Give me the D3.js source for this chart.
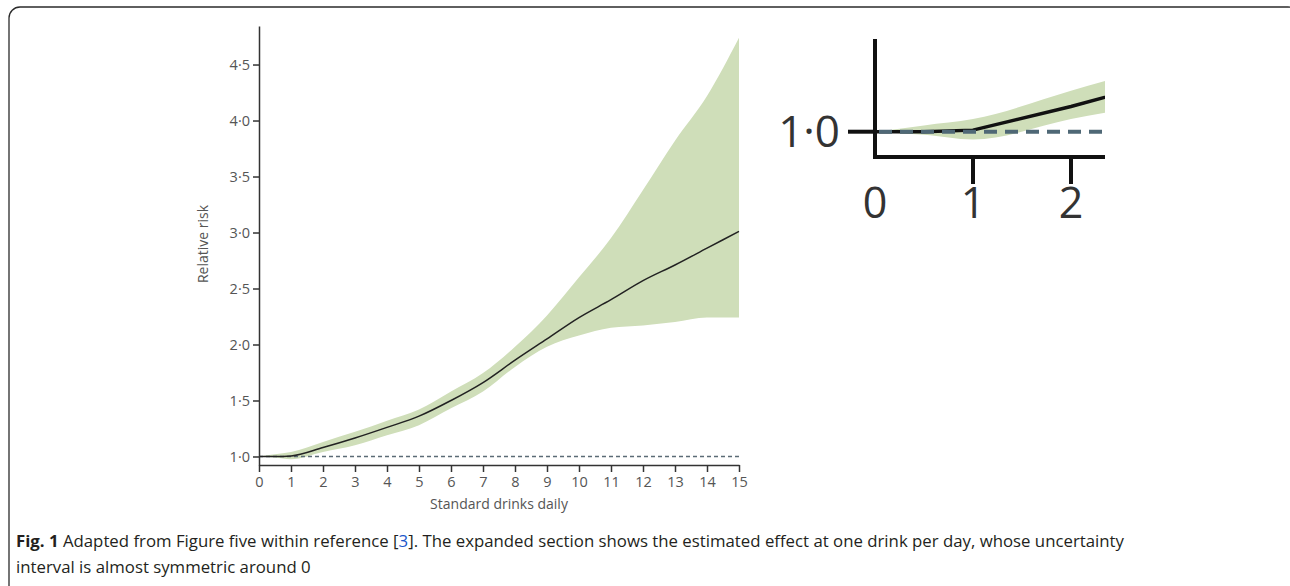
<!DOCTYPE html>
<html>
<head>
<meta charset="utf-8">
<script src="https://cdn.jsdelivr.net/npm/d3@7/dist/d3.min.js"></script>
<style>
  html, body { margin: 0; padding: 0; background: #fff; }
  svg { display: block; }
</style>
</head>
<body>
<svg id="chart" width="1290" height="586"></svg>
<script>
// ---- data ----
const drinks = [0, 0.5, 1, 2, 3, 4, 5, 6, 7, 8, 9, 10, 11, 12, 13, 14, 15];
const relRisk = [1.0, 1.0, 1.005, 1.08, 1.165, 1.26, 1.36, 1.50, 1.66, 1.86, 2.05, 2.24, 2.40, 2.57, 2.71, 2.86, 3.01];
const upperCI = [1.0, 1.02, 1.04, 1.13, 1.22, 1.32, 1.42, 1.58, 1.745, 1.98, 2.26, 2.60, 2.95, 3.38, 3.82, 4.22, 4.74];
const lowerCI = [1.0, 0.99, 0.975, 1.04, 1.10, 1.19, 1.28, 1.43, 1.58, 1.80, 1.98, 2.08, 2.15, 2.17, 2.20, 2.24, 2.24];
const xTicks = [0,1,2,3,4,5,6,7,8,9,10,11,12,13,14,15];
const yTicks = [1.0, 1.5, 2.0, 2.5, 3.0, 3.5, 4.0, 4.5];
const insetXTicks = [1, 2];
const insetXLabels = [0, 1, 2];
const insetYTicks = [1.0];
const yTitle = "Relative risk";
const xTitle = "Standard drinks daily";

const rows = drinks.map((d, i) => ({ x: d, y: relRisk[i], hi: upperCI[i], lo: lowerCI[i] }));
const fmt = v => d3.format(".1f")(v).replace(".", "\u00B7");

const svg = d3.select("#chart");
const GREEN = "#cfdeb9";
const FONT = "'Open Sans', 'Noto Sans', sans-serif";
const CURVE = d3.curveMonotoneX;

// frame
svg.append("rect").attr("x", 9).attr("y", 7).attr("width", 1290).attr("height", 590)
  .attr("rx", 11).attr("fill", "none").attr("stroke", "#2b2b2b").attr("stroke-width", 1.3);

// ---- main chart ----
const x = d3.scaleLinear().domain([0, 15]).range([259, 739]);
const y = d3.scaleLinear().domain([0.924, 4.844]).range([465, 26]);

const main = svg.append("g");
main.append("path").datum(rows)
  .attr("fill", GREEN)
  .attr("d", d3.area().curve(CURVE).x(d => x(d.x)).y0(d => y(d.lo)).y1(d => y(d.hi)));

main.append("line")
  .attr("x1", x(0)).attr("x2", x(15)).attr("y1", y(1)).attr("y2", y(1))
  .attr("stroke", "#5b6b76").attr("stroke-width", 1.5).attr("stroke-dasharray", "4,3");

main.append("path").datum(rows)
  .attr("fill", "none").attr("stroke", "#222").attr("stroke-width", 1.5)
  .attr("d", d3.line().curve(CURVE).x(d => x(d.x)).y(d => y(d.y)));

const xAxis = main.append("g").attr("transform", "translate(0,465)")
  .call(d3.axisBottom(x).tickValues(xTicks).tickSizeOuter(0).tickSizeInner(7).tickPadding(5).tickFormat(d3.format("d")));
const yAxis = main.append("g").attr("transform", "translate(259,0)")
  .call(d3.axisLeft(y).tickValues(yTicks).tickSizeOuter(0).tickSizeInner(6).tickPadding(3).tickFormat(fmt));
[xAxis, yAxis].forEach(a => {
  a.select(".domain").attr("stroke", "#333").attr("stroke-width", 1.5);
  a.selectAll(".tick line").attr("stroke", "#333").attr("stroke-width", 1.5);
  a.selectAll("text").attr("fill", "#555").style("font-family", FONT).style("font-size", "14.5px");
});

main.append("text").attr("transform", "translate(208,244) rotate(-90)")
  .attr("text-anchor", "middle").attr("fill", "#555")
  .style("font-family", FONT).style("font-size", "14px").text(yTitle);
main.append("text").attr("x", 499).attr("y", 509)
  .attr("text-anchor", "middle").attr("fill", "#555")
  .style("font-family", FONT).style("font-size", "14px").text(xTitle);

// ---- inset (expanded section) ----
const ix = d3.scaleLinear().domain([0, 2.347]).range([875, 1105]);
const iy = d3.scaleLinear().domain([0.9197, 1.2943]).range([157, 39]);
svg.append("clipPath").attr("id", "insetClip").append("rect")
  .attr("x", 875).attr("y", 39).attr("width", 230).attr("height", 118);
const inset = svg.append("g");
const inner = inset.append("g").attr("clip-path", "url(#insetClip)");
inner.append("path").datum(rows).attr("fill", GREEN)
  .attr("d", d3.area().curve(CURVE).x(d => ix(d.x)).y0(d => iy(d.lo)).y1(d => iy(d.hi)));
inner.append("path").datum(rows).attr("fill", "none").attr("stroke", "#111").attr("stroke-width", 3.5)
  .attr("d", d3.line().x(d => ix(d.x)).y(d => iy(d.y)));
inner.append("line").attr("x1", ix(0)).attr("x2", 1105).attr("y1", iy(1)).attr("y2", iy(1))
  .attr("stroke", "#4f6876").attr("stroke-width", 4).attr("stroke-dasharray", "13,8").attr("stroke-dashoffset", -4);

// inset axes
inset.append("line").attr("x1", 875).attr("x2", 875).attr("y1", 39).attr("y2", 159)
  .attr("stroke", "#111").attr("stroke-width", 4);
inset.append("line").attr("x1", 873).attr("x2", 1105).attr("y1", 157).attr("y2", 157)
  .attr("stroke", "#111").attr("stroke-width", 4);
inset.selectAll(".ixt").data(insetXTicks).join("line")
  .attr("x1", d => ix(d)).attr("x2", d => ix(d)).attr("y1", 157).attr("y2", 184)
  .attr("stroke", "#111").attr("stroke-width", 4);
inset.selectAll(".iyt").data(insetYTicks).join("line")
  .attr("x1", 848).attr("x2", 875).attr("y1", d => iy(d)).attr("y2", d => iy(d))
  .attr("stroke", "#111").attr("stroke-width", 4);
inset.selectAll(".ixl").data(insetXLabels).join("text")
  .attr("x", d => ix(d)).attr("y", 218).attr("text-anchor", "middle")
  .attr("fill", "#333").style("font-family", FONT).style("font-size", "43px").text(d => d);
inset.selectAll(".iyl").data(insetYTicks).join("text")
  .attr("x", 840).attr("y", d => iy(d) + 15).attr("text-anchor", "end")
  .attr("fill", "#333").style("font-family", FONT).style("font-size", "44px").text(fmt);

// ---- caption ----
const cap1 = svg.append("text").attr("x", 16).attr("y", 547)
  .attr("fill", "#231f20").style("font-family", FONT).style("font-size", "16.8px");
cap1.append("tspan").style("font-weight", "bold").text("Fig. 1");
cap1.append("tspan").text(" Adapted from Figure five within reference [");
cap1.append("tspan").attr("fill", "#1a57c9").text("3");
cap1.append("tspan").text("]. The expanded section shows the estimated effect at one drink per day, whose uncertainty");
svg.append("text").attr("x", 16).attr("y", 573)
  .attr("fill", "#231f20").style("font-family", FONT).style("font-size", "16.8px")
  .text("interval is almost symmetric around 0");
</script>
</body>
</html>
